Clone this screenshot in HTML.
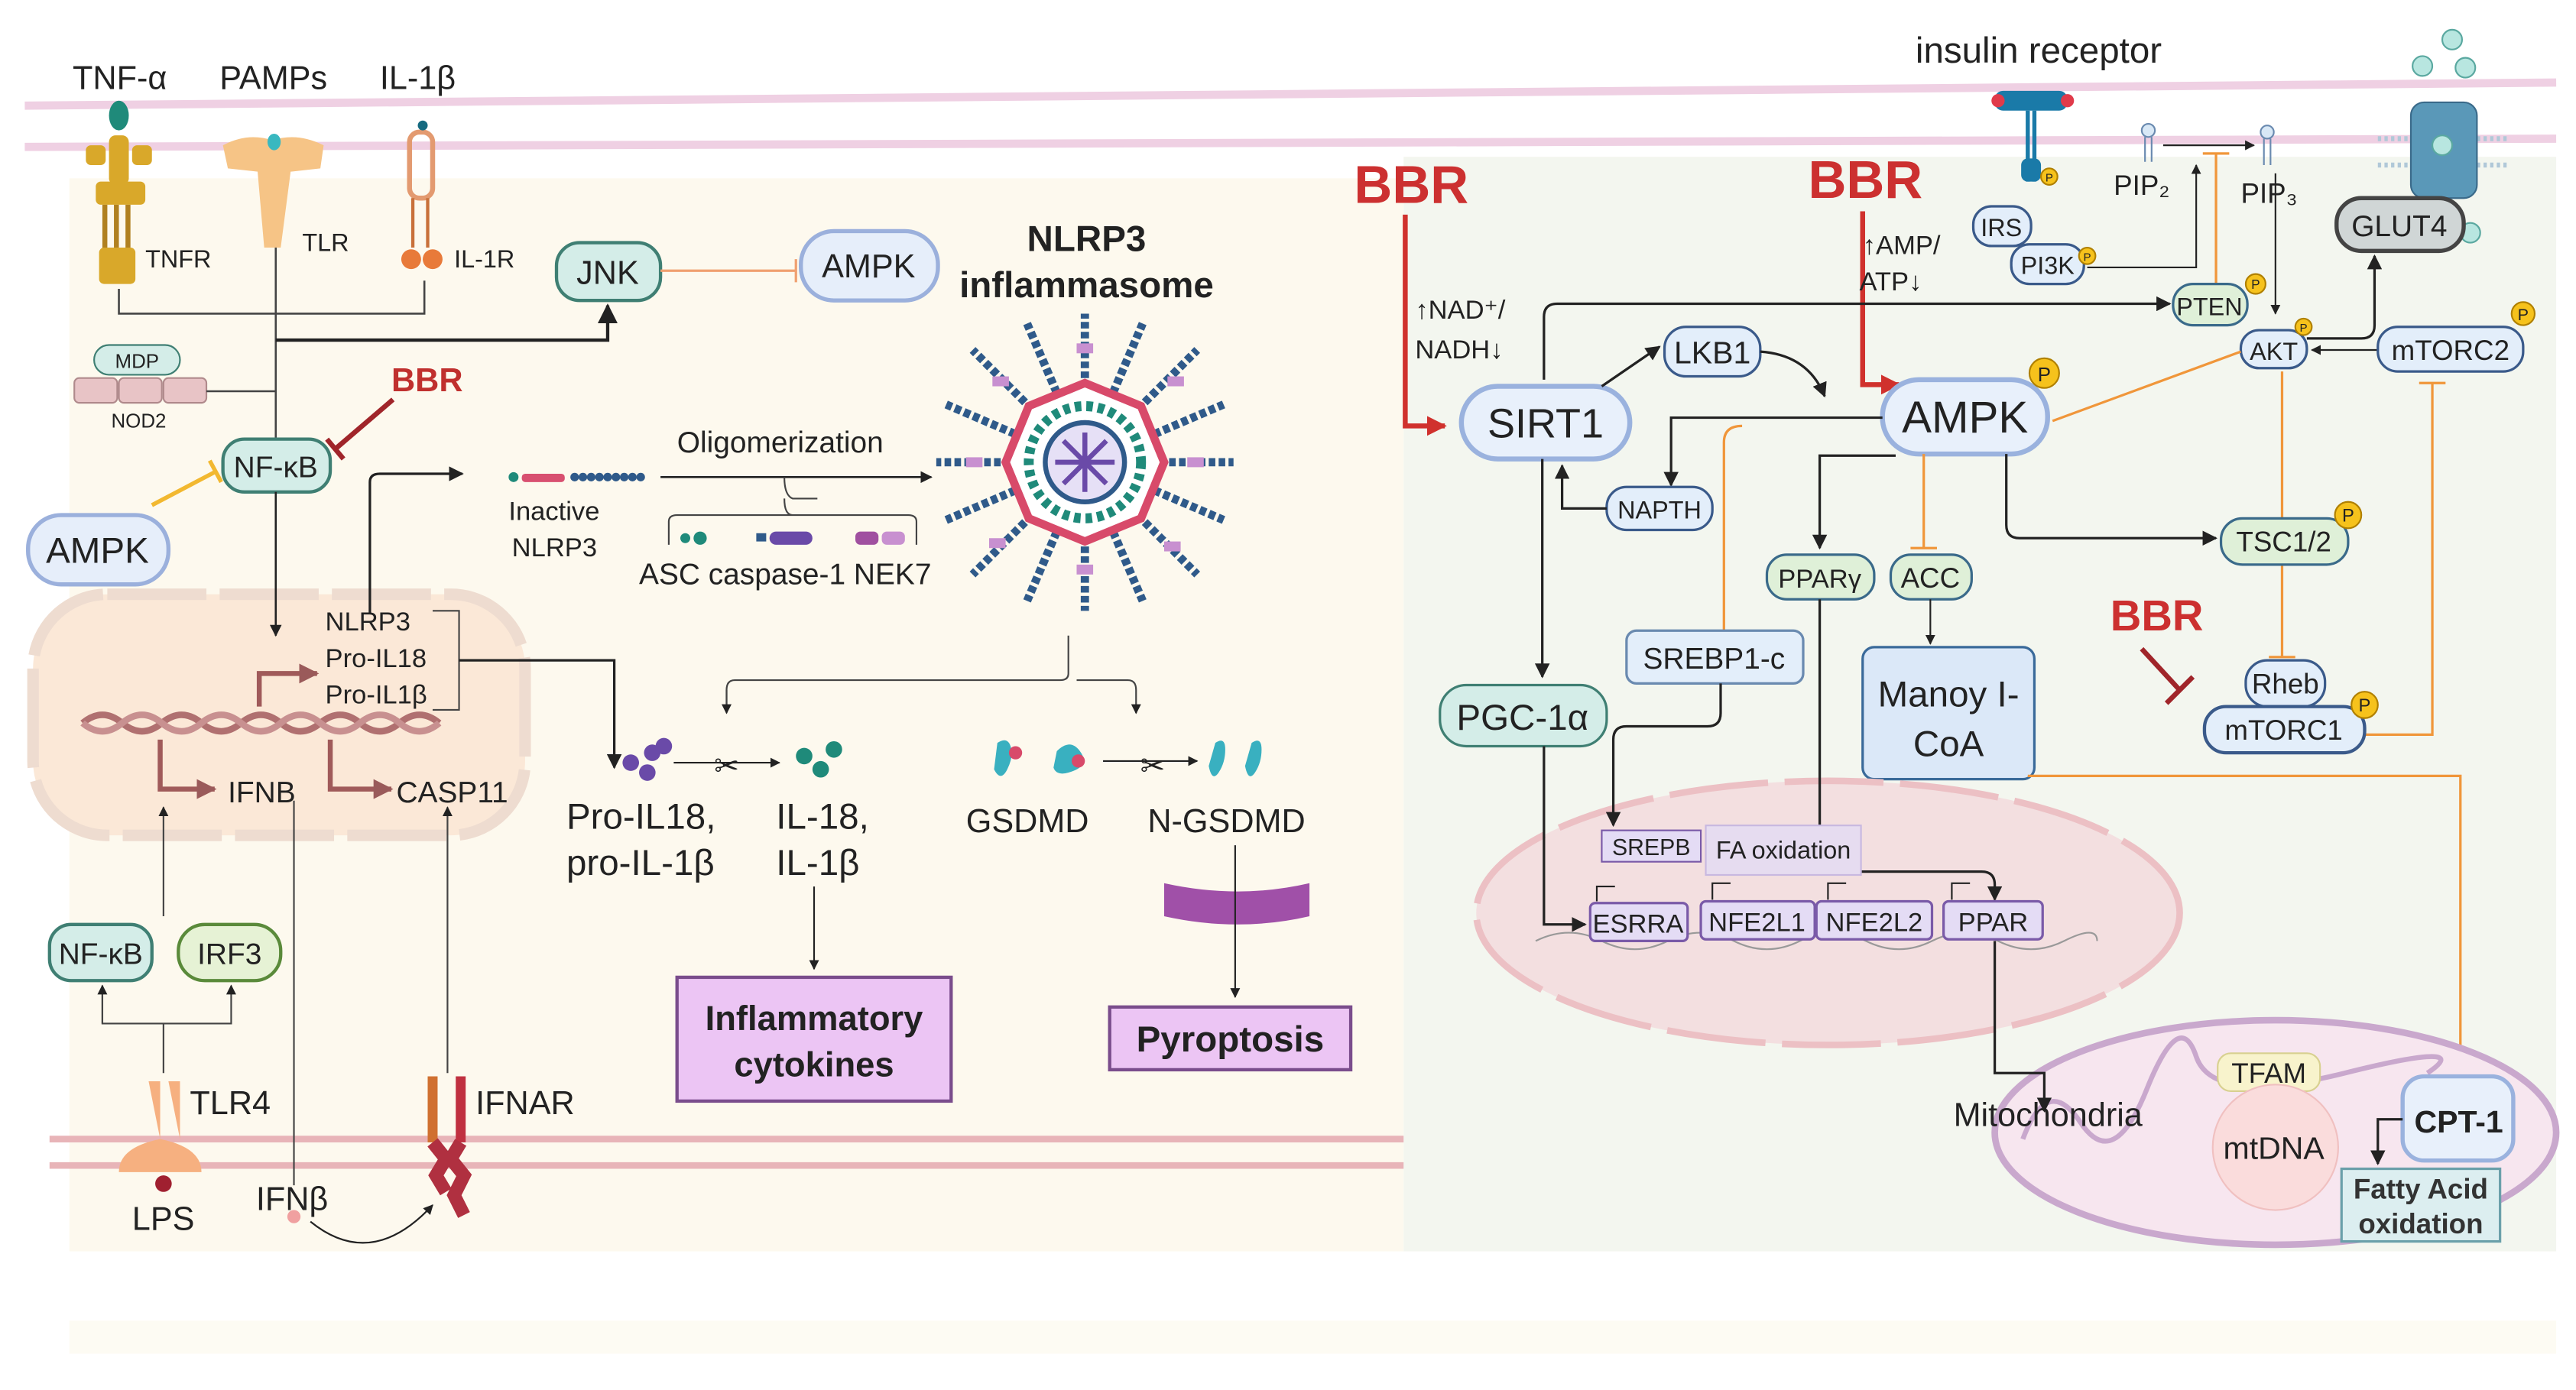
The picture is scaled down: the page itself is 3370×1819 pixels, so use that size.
<!DOCTYPE html>
<html><head><meta charset="utf-8"><style>
html,body{margin:0;padding:0;background:#fff;}
svg{display:block;}
text{font-family:"Liberation Sans",sans-serif;fill:#222;}
</style></head><body>
<svg width="3370" height="1819" viewBox="0 0 1560 842" preserveAspectRatio="none" xmlns="http://www.w3.org/2000/svg">
<defs>
<marker id="a" viewBox="0 0 10 10" refX="9" refY="5" markerWidth="6" markerHeight="6" orient="auto"><path d="M0,0L10,5L0,10z" fill="#222"/></marker>
<marker id="r" viewBox="0 0 10 10" refX="9" refY="5" markerWidth="4" markerHeight="4" orient="auto"><path d="M0,0L10,5L0,10z" fill="#d0312d"/></marker>
<marker id="b" viewBox="0 0 10 10" refX="9" refY="5" markerWidth="4" markerHeight="4" orient="auto"><path d="M0,0L10,5L0,10z" fill="#9a5a5a"/></marker>
</defs>
<rect width="1560" height="842" fill="#fff"/>
<rect x="42" y="108" width="808" height="650" fill="#fdf9ee"/>
<rect x="850" y="95" width="698" height="663" fill="#f3f6ef"/>
<rect x="42" y="800" width="1506" height="20" fill="#fdfbf3"/>
<!-- membranes -->
<path d="M15,64L1548,50" stroke="#efd0e3" stroke-width="5"/>
<path d="M15,89L1548,84" stroke="#efd0e3" stroke-width="5"/>
<path d="M30,690H850M30,706H850" stroke="#e8b4b8" stroke-width="4"/>

<!-- LEFT -->
<text x="44" y="54" font-size="20">TNF-α</text>
<text x="133" y="54" font-size="20">PAMPs</text>
<text x="230" y="54" font-size="20">IL-1β</text>
<!-- TNFR -->
<ellipse cx="72" cy="70" rx="6" ry="9" fill="#1f8a7a"/>
<g fill="#d9a82a"><rect x="66" y="82" width="12" height="30" rx="4"/><rect x="52" y="88" width="12" height="12" rx="3"/><rect x="80" y="88" width="12" height="12" rx="3"/><rect x="58" y="110" width="30" height="14" rx="3"/>
<rect x="62" y="124" width="3" height="30" fill="#b08020"/><rect x="69" y="124" width="3" height="30" fill="#b08020"/><rect x="76" y="124" width="3" height="30" fill="#b08020"/>
<rect x="60" y="150" width="22" height="22" rx="3"/></g>
<text x="88" y="162" font-size="15">TNFR</text>
<!-- TLR -->
<path d="M135,88Q150,80 165,85Q180,80 196,88L194,102L176,104L170,150L160,150L156,104L138,102Z" fill="#f6c486"/>
<ellipse cx="166" cy="86" rx="4" ry="5" fill="#39b8c0"/>
<text x="183" y="152" font-size="15">TLR</text>
<!-- IL-1R -->
<rect x="248" y="80" width="14" height="40" rx="6" fill="none" stroke="#e39a70" stroke-width="3"/>
<path d="M250,120V150M259,120V150" stroke="#c8703a" stroke-width="2"/>
<circle cx="249" cy="157" r="6" fill="#e87a3a"/><circle cx="262" cy="157" r="6" fill="#e87a3a"/>
<circle cx="256" cy="76" r="3" fill="#156a80"/>
<text x="275" y="162" font-size="15">IL-1R</text>
<path d="M72,175V190H257V170M167,150V278" stroke="#444" stroke-width="1.2" fill="none"/>
<path d="M167,206H368V185" stroke="#222" stroke-width="2" fill="none" marker-end="url(#a)"/>
<rect x="337" y="147" width="63" height="35" rx="14" fill="#d4ede8" stroke="#3f7f73" stroke-width="2"/>
<text x="368" y="172" font-size="20" text-anchor="middle">JNK</text>
<path d="M400,164H482M482,157V171" stroke="#f0a070" stroke-width="1.5"/>
<rect x="485" y="140" width="83" height="42" rx="20" fill="#e6eefa" stroke="#9bb0dc" stroke-width="2.5"/>
<text x="526" y="168" font-size="20" text-anchor="middle">AMPK</text>
<text x="658" y="152" font-size="22" font-weight="bold" text-anchor="middle">NLRP3</text>
<text x="658" y="180" font-size="22" font-weight="bold" text-anchor="middle">inflammasome</text>
<!-- MDP NOD2 -->
<rect x="57" y="209" width="52" height="18" rx="9" fill="#d4ede8" stroke="#3f7f73"/>
<text x="83" y="223" font-size="12" text-anchor="middle">MDP</text>
<g fill="#e8c4c6" stroke="#b08a8c"><rect x="45" y="229" width="26" height="15" rx="3"/><rect x="72" y="229" width="26" height="15" rx="3"/><rect x="99" y="229" width="26" height="15" rx="3"/></g>
<text x="84" y="259" font-size="12" text-anchor="middle">NOD2</text>
<path d="M125,237H167" stroke="#444" stroke-width="1.2"/>
<text x="237" y="237" font-size="20" font-weight="bold" fill="#c0302e" style="fill:#c0302e">BBR</text>
<path d="M238,242L203,272M198,266L208,278" stroke="#a0252a" stroke-width="3"/>
<rect x="135" y="266" width="65" height="32" rx="13" fill="#d4ede8" stroke="#3f7f73" stroke-width="2"/>
<text x="167" y="289" font-size="18" text-anchor="middle">NF-κB</text>
<path d="M92,306L130,286M127,279L134,292" stroke="#f2b830" stroke-width="2.5"/>
<rect x="17" y="312" width="85" height="42" rx="20" fill="#e6eefa" stroke="#9bb0dc" stroke-width="2.5"/>
<text x="59" y="341" font-size="22" text-anchor="middle">AMPK</text>
<!-- nucleus -->
<rect x="20" y="360" width="298" height="146" rx="45" fill="#fbe8d7" stroke="#eedcd0" stroke-width="7" stroke-dasharray="60 8"/>
<path d="M167,298V385" stroke="#222" stroke-width="1.2" marker-end="url(#a)"/>
<text x="197" y="382" font-size="16">NLRP3</text>
<text x="197" y="404" font-size="16">Pro-IL18</text>
<text x="197" y="426" font-size="16">Pro-IL1β</text>
<path d="M262,370H278V430H262" stroke="#444" fill="none"/>
<path d="M224,372V292Q224,287 230,287H280" stroke="#222" stroke-width="1.5" fill="none" marker-end="url(#a)"/>
<path d="M278,400H372V465" stroke="#222" stroke-width="1.5" fill="none" marker-end="url(#a)"/>
<path d="M50,438Q62,428 74,438T98,438T122,438T146,438T170,438T194,438T218,438T242,438T266,438" stroke="#b07070" stroke-width="4" fill="none"/>
<path d="M50,438Q62,448 74,438T98,438T122,438T146,438T170,438T194,438T218,438T242,438T266,438" stroke="#c89090" stroke-width="4" fill="none"/>
<path d="M157,428V408H192" stroke="#a05a5a" stroke-width="3" fill="none" marker-end="url(#b)"/>
<path d="M97,448V478H130" stroke="#a05a5a" stroke-width="3" fill="none" marker-end="url(#b)"/>
<path d="M200,448V478H237" stroke="#a05a5a" stroke-width="3" fill="none" marker-end="url(#b)"/>
<text x="138" y="486" font-size="18">IFNB</text>
<text x="240" y="486" font-size="18">CASP11</text>
<!-- inactive NLRP3 -->
<circle cx="311" cy="289" r="3" fill="#1f8a7a"/><rect x="316" y="287" width="26" height="5" rx="2" fill="#d85070"/>
<g fill="#2f5a8a"><circle cx="348" cy="289" r="2.6"/><circle cx="353" cy="289" r="2.6"/><circle cx="358" cy="289" r="2.6"/><circle cx="363" cy="289" r="2.6"/><circle cx="368" cy="289" r="2.6"/><circle cx="373" cy="289" r="2.6"/><circle cx="378" cy="289" r="2.6"/><circle cx="383" cy="289" r="2.6"/><circle cx="388" cy="289" r="2.6"/></g>
<text x="308" y="315" font-size="16">Inactive</text>
<text x="310" y="337" font-size="16">NLRP3</text>
<text x="410" y="274" font-size="18">Oligomerization</text>
<path d="M400,289H564" stroke="#222" stroke-width="1.2" marker-end="url(#a)"/>
<path d="M475,289Q475,300 480,302H495M405,330V316Q405,312 410,312H550Q555,312 555,316V330M480,312Q475,312 475,302" stroke="#444" fill="none"/>
<circle cx="415" cy="326" r="3" fill="#1f8a7a"/><circle cx="424" cy="326" r="4" fill="#1f8a7a"/>
<rect x="458" y="323" width="6" height="5" fill="#2f5a8a"/><rect x="466" y="322" width="26" height="8" rx="4" fill="#6a4aa8"/>
<rect x="518" y="322" width="14" height="8" rx="3" fill="#a050a0"/><rect x="534" y="322" width="14" height="8" rx="3" fill="#c890d0"/>
<text x="387" y="354" font-size="18">ASC caspase-1 NEK7</text>
<!-- inflammasome -->
<g transform="translate(657,280)">
<g stroke="#2f5a8a" stroke-width="5" stroke-dasharray="4 2">
<path d="M0,-45V-90M32,-32L68,-68M45,0H90M32,32L68,68M0,45V90M-32,32L-68,68M-45,0H-90M-32,-32L-68,-68M17,-42L35,-84M42,-17L84,-35M42,17L84,35M17,42L35,84M-17,42L-35,84M-42,17L-84,35M-42,-17L-84,-35M-17,-42L-35,-84"/>
</g>
<g fill="#c890d0"><rect x="-5" y="-72" width="10" height="6"/><rect x="50" y="-52" width="10" height="6"/><rect x="62" y="-3" width="10" height="6"/><rect x="48" y="48" width="10" height="6"/><rect x="-5" y="62" width="10" height="6"/><rect x="-58" y="46" width="10" height="6"/><rect x="-72" y="-3" width="10" height="6"/><rect x="-56" y="-52" width="10" height="6"/></g>
<polygon points="0,-48 34,-34 48,0 34,34 0,48 -34,34 -48,0 -34,-34" fill="#fff" stroke="#d84a6a" stroke-width="5"/>
<circle r="34" fill="#fff" stroke="#1f8a7a" stroke-width="6" stroke-dasharray="4 3"/>
<circle r="24" fill="#e6e0f6" stroke="#2f5a8a" stroke-width="3"/>
<g stroke="#6a4aa8" stroke-width="3"><path d="M0,-18V18M-18,0H18M-13,-13L13,13M-13,13L13,-13"/></g>
</g>
<path d="M647,385V408Q647,412 642,412H445Q440,412 440,418V430M652,412H683Q688,412 688,418V432" stroke="#444" fill="none" marker-end="url(#a)"/>
<path d="M440,418V432" stroke="#444" marker-end="url(#a)"/>
<g fill="#6a4aa8"><circle cx="382" cy="462" r="5"/><circle cx="395" cy="456" r="5"/><circle cx="392" cy="468" r="5"/><circle cx="402" cy="452" r="5"/></g>
<path d="M408,462H472" stroke="#222" marker-end="url(#a)"/>
<text x="440" y="470" font-size="18" text-anchor="middle">✂</text>
<g fill="#1f8a7a"><circle cx="487" cy="458" r="5"/><circle cx="497" cy="466" r="5"/><circle cx="505" cy="454" r="5"/></g>
<text x="343" y="502" font-size="22">Pro-IL18,</text>
<text x="343" y="530" font-size="22">pro-IL-1β</text>
<text x="470" y="502" font-size="22">IL-18,</text>
<text x="470" y="530" font-size="22">IL-1β</text>
<path d="M493,537V587" stroke="#222" marker-end="url(#a)"/>
<rect x="410" y="592" width="166" height="75" fill="#ecc5f4" stroke="#7a4d8c" stroke-width="2"/>
<text x="493" y="624" font-size="21" font-weight="bold" text-anchor="middle">Inflammatory</text>
<text x="493" y="652" font-size="21" font-weight="bold" text-anchor="middle">cytokines</text>
<g fill="#39b0c0"><path d="M604,450q6,-4 8,2t-2,14t-8,0z"/><path d="M640,455q8,-8 14,0t-4,12t-12,-2z"/><path d="M736,450q6,-4 6,4t-4,14t-6,-4z"/><path d="M758,450q6,-4 6,4t-4,14t-6,-4z"/></g>
<circle cx="615" cy="456" r="4" fill="#d84a6a"/><circle cx="653" cy="461" r="4" fill="#d84a6a"/>
<path d="M668,461H725" stroke="#222" marker-end="url(#a)"/>
<text x="698" y="470" font-size="18" text-anchor="middle">✂</text>
<text x="585" y="504" font-size="20">GSDMD</text>
<text x="695" y="504" font-size="20">N-GSDMD</text>
<path d="M705,535Q750,545 793,535V555Q750,565 705,555Z" fill="#a050a8"/>
<path d="M748,512V604" stroke="#222" marker-end="url(#a)"/>
<rect x="672" y="610" width="146" height="38" fill="#ecc5f4" stroke="#7a4d8c" stroke-width="2"/>
<text x="745" y="637" font-size="22" font-weight="bold" text-anchor="middle">Pyroptosis</text>
<!-- lower left -->
<rect x="30" y="560" width="62" height="34" rx="13" fill="#d4ede8" stroke="#3f7f73" stroke-width="2"/>
<text x="61" y="584" font-size="18" text-anchor="middle">NF-κB</text>
<rect x="108" y="560" width="62" height="34" rx="16" fill="#e6f2d5" stroke="#5a8a3a" stroke-width="2"/>
<text x="139" y="584" font-size="18" text-anchor="middle">IRF3</text>
<path d="M99,650V620H62V597M99,620H140V597" stroke="#444" fill="none" marker-end="url(#a)"/>
<path d="M62,620V597" stroke="#444" marker-end="url(#a)"/>
<path d="M99,555V489" stroke="#444" marker-end="url(#a)"/>
<path d="M90,655h7v35q-25,5 -25,20h50q0,-15 -25,-20M102,655h7v35" fill="#f6b080"/>
<circle cx="99" cy="717" r="5" fill="#a02030"/>
<text x="115" y="675" font-size="20">TLR4</text>
<text x="80" y="745" font-size="20">LPS</text>
<path d="M178,485V718" stroke="#444"/>
<text x="155" y="733" font-size="20">IFNβ</text>
<circle cx="178" cy="737" r="4" fill="#f0a0a0"/>
<path d="M188,740Q225,770 262,730" stroke="#222" fill="none" marker-end="url(#a)"/>
<rect x="259" y="652" width="6" height="40" fill="#d07030"/><rect x="276" y="652" width="6" height="40" fill="#c03040"/>
<path d="M262,692l8,10l-6,10l6,10M279,692l-6,10l8,10l-6,12l6,12" stroke="#b03040" stroke-width="8" fill="none"/>
<text x="288" y="675" font-size="20">IFNAR</text>
<path d="M271,650V489" stroke="#444" marker-end="url(#a)"/>

<!-- RIGHT -->
<text x="1160" y="38" font-size="22">insulin receptor</text>
<rect x="1208" y="55" width="44" height="12" rx="5" fill="#1a7aa8"/><circle cx="1210" cy="61" r="4" fill="#e03a4a"/><circle cx="1252" cy="61" r="4" fill="#e03a4a"/>
<path d="M1228,67V110M1232,67V110" stroke="#1a7aa8" stroke-width="2.5"/><rect x="1224" y="96" width="12" height="14" rx="4" fill="#1a7aa8"/>
<circle cx="1241" cy="107" r="5" fill="#f6c21c" stroke="#b08000"/><text x="1241" y="110" font-size="7" text-anchor="middle">P</text>
<g fill="#d8e8f6" stroke="#6a8ab0"><circle cx="1301" cy="79" r="4"/><circle cx="1373" cy="80" r="4"/></g>
<path d="M1299,83V98M1303,83V98M1371,84V100M1375,84V100" stroke="#6a8ab0"/>
<circle cx="1485" cy="24" r="6" fill="#b8e6e0" stroke="#5aa8a0"/><circle cx="1467" cy="40" r="6" fill="#b8e6e0" stroke="#5aa8a0"/><circle cx="1493" cy="41" r="6" fill="#b8e6e0" stroke="#5aa8a0"/>
<path d="M1440,84H1520M1440,100H1520" stroke="#b0c8d8" stroke-width="3" stroke-dasharray="2 2"/>
<rect x="1460" y="62" width="40" height="58" rx="8" fill="#5a98b8" stroke="#3a6a8a"/>
<circle cx="1479" cy="88" r="6" fill="#b8e6e0" stroke="#5aa8a0"/>
<circle cx="1496" cy="141" r="6" fill="#b8e6e0" stroke="#5aa8a0"/>
<text x="820" y="123" font-size="32" font-weight="bold" style="fill:#cc3030">BBR</text>
<path d="M851,130V258H875" stroke="#d0312d" stroke-width="3" fill="none" marker-end="url(#r)"/>
<text x="857" y="193" font-size="16">↑NAD⁺/</text>
<text x="857" y="217" font-size="16">NADH↓</text>
<text x="1095" y="120" font-size="32" font-weight="bold" style="fill:#cc3030">BBR</text>
<path d="M1128,128V233H1150" stroke="#d0312d" stroke-width="3" fill="none" marker-end="url(#r)"/>
<text x="1128" y="154" font-size="16">↑AMP/</text>
<text x="1126" y="176" font-size="16">ATP↓</text>
<text x="1280" y="118" font-size="17">PIP₂</text>
<text x="1357" y="123" font-size="17">PIP₃</text>
<path d="M1310,88H1365" stroke="#222" marker-end="url(#a)"/>
<path d="M1342,93V175M1334,93H1350" stroke="#f0963a" stroke-width="1.5"/>
<path d="M1264,162H1330V100" stroke="#222" fill="none" marker-end="url(#a)"/>
<path d="M1378,105V190" stroke="#222" marker-end="url(#a)"/>
<rect x="1195" y="125" width="35" height="24" rx="11" fill="#e3eefa" stroke="#3a5a8a" stroke-width="1.5"/><text x="1212" y="143" font-size="15" text-anchor="middle">IRS</text>
<rect x="1218" y="148" width="44" height="24" rx="11" fill="#e3eefa" stroke="#3a5a8a" stroke-width="1.5"/><text x="1240" y="166" font-size="15" text-anchor="middle">PI3K</text>
<circle cx="1264" cy="155" r="5" fill="#f6c21c" stroke="#b08000"/><text x="1264" y="158" font-size="7" text-anchor="middle">P</text>
<rect x="1415" y="120" width="77" height="32" rx="15" fill="#d0d6d6" stroke="#444" stroke-width="2.5"/><text x="1453" y="143" font-size="18" text-anchor="middle">GLUT4</text>
<path d="M935,230V192Q935,184 943,184H1314" stroke="#222" stroke-width="1.5" fill="none" marker-end="url(#a)"/>
<rect x="1316" y="172" width="45" height="25" rx="12" fill="#dff0d8" stroke="#3a6a8a" stroke-width="1.5"/><text x="1338" y="191" font-size="15" text-anchor="middle">PTEN</text>
<circle cx="1366" cy="172" r="6" fill="#f6c21c" stroke="#b08000"/><text x="1366" y="175" font-size="8" text-anchor="middle">P</text>
<path d="M1397,205H1430Q1438,205 1438,197V155" stroke="#222" stroke-width="1.5" fill="none" marker-end="url(#a)"/>
<rect x="1357" y="200" width="40" height="23" rx="11" fill="#e3eefa" stroke="#3a5a8a" stroke-width="1.5"/><text x="1377" y="218" font-size="15" text-anchor="middle">AKT</text>
<circle cx="1395" cy="198" r="5" fill="#f6c21c" stroke="#b08000"/><text x="1395" y="201" font-size="7" text-anchor="middle">P</text>
<path d="M1440,212H1400" stroke="#222" marker-end="url(#a)"/>
<rect x="1440" y="198" width="88" height="27" rx="12" fill="#e3eefa" stroke="#3a5a8a" stroke-width="1.5"/><text x="1484" y="218" font-size="17" text-anchor="middle">mTORC2</text>
<circle cx="1528" cy="190" r="7" fill="#f6c21c" stroke="#b08000"/><text x="1528" y="194" font-size="10" text-anchor="middle">P</text>
<path d="M1357,213L1243,255" stroke="#f0963a" stroke-width="1.5"/>
<path d="M1382,225V318M1374,318H1390M1382,342V398M1374,398H1390" stroke="#f0963a" stroke-width="1.5"/>
<path d="M1473,232V445H1432M1465,232H1481" stroke="#f0963a" stroke-width="1.5" fill="none"/>
<rect x="885" y="234" width="102" height="44" rx="22" fill="#e8f0fb" stroke="#9ab2de" stroke-width="3"/><text x="936" y="265" font-size="25" text-anchor="middle">SIRT1</text>
<path d="M970,234L1005,210" stroke="#222" stroke-width="1.5" marker-end="url(#a)"/>
<rect x="1008" y="198" width="58" height="30" rx="13" fill="#e3eefa" stroke="#3a5a8a" stroke-width="1.5"/><text x="1037" y="220" font-size="19" text-anchor="middle">LKB1</text>
<path d="M1066,213Q1095,215 1105,240" stroke="#222" stroke-width="1.5" fill="none" marker-end="url(#a)"/>
<rect x="1140" y="230" width="100" height="45" rx="22" fill="#e8f0fb" stroke="#9ab2de" stroke-width="3"/><text x="1190" y="262" font-size="27" text-anchor="middle">AMPK</text>
<circle cx="1238" cy="226" r="9" fill="#f6c21c" stroke="#b08000"/><text x="1238" y="231" font-size="12" text-anchor="middle">P</text>
<path d="M1140,253H1012V294" stroke="#222" stroke-width="1.5" fill="none" marker-end="url(#a)"/>
<path d="M1055,258Q1044,258 1044,268V408M1036,408H1052" stroke="#f0963a" stroke-width="1.5" fill="none"/>
<path d="M1165,275V332M1157,332H1173" stroke="#f0963a" stroke-width="1.5"/>
<path d="M1148,276H1102V332" stroke="#222" stroke-width="1.5" fill="none" marker-end="url(#a)"/>
<path d="M1215,275V318Q1215,326 1223,326H1342" stroke="#222" stroke-width="1.5" fill="none" marker-end="url(#a)"/>
<rect x="973" y="295" width="64" height="26" rx="12" fill="#e3eefa" stroke="#3a5a8a" stroke-width="1.5"/><text x="1005" y="314" font-size="15" text-anchor="middle">NAPTH</text>
<path d="M973,308H946V282" stroke="#222" stroke-width="1.5" fill="none" marker-end="url(#a)"/>
<path d="M934,278V410" stroke="#222" stroke-width="1.5" marker-end="url(#a)"/>
<rect x="1070" y="336" width="65" height="27" rx="12" fill="#dff0d8" stroke="#3a6a8a" stroke-width="1.5"/><text x="1102" y="356" font-size="16" text-anchor="middle">PPARγ</text>
<rect x="1145" y="336" width="49" height="27" rx="12" fill="#dff0d8" stroke="#3a6a8a" stroke-width="1.5"/><text x="1169" y="356" font-size="17" text-anchor="middle">ACC</text>
<path d="M1169,363V390" stroke="#222" marker-end="url(#a)"/>
<rect x="985" y="382" width="107" height="32" rx="6" fill="#e3eefa" stroke="#6a8ab0" stroke-width="1.5"/><text x="1038" y="405" font-size="18" text-anchor="middle">SREBP1-c</text>
<rect x="872" y="415" width="101" height="37" rx="16" fill="#d4ede8" stroke="#3f7f73" stroke-width="1.5"/><text x="922" y="442" font-size="22" text-anchor="middle">PGC-1α</text>
<rect x="1128" y="392" width="104" height="80" rx="7" fill="#dbe8f8" stroke="#3a6a9a" stroke-width="1.5"/><text x="1180" y="428" font-size="22" text-anchor="middle">Manoy I-</text><text x="1180" y="458" font-size="22" text-anchor="middle">CoA</text>
<rect x="1345" y="314" width="77" height="28" rx="13" fill="#dff0d8" stroke="#3a6a8a" stroke-width="1.5"/><text x="1383" y="334" font-size="17" text-anchor="middle">TSC1/2</text>
<circle cx="1422" cy="312" r="8" fill="#f6c21c" stroke="#b08000"/><text x="1422" y="316" font-size="11" text-anchor="middle">P</text>
<text x="1278" y="382" font-size="26" font-weight="bold" style="fill:#cc3030">BBR</text>
<path d="M1297,393L1320,418M1312,426L1328,410" stroke="#a0252a" stroke-width="3"/>
<rect x="1360" y="400" width="48" height="28" rx="13" fill="#e3eefa" stroke="#3a5a8a" stroke-width="1.5"/><text x="1384" y="420" font-size="17" text-anchor="middle">Rheb</text>
<rect x="1335" y="428" width="97" height="28" rx="13" fill="#e3eefa" stroke="#3a5a8a" stroke-width="2"/><text x="1383" y="448" font-size="17" text-anchor="middle">mTORC1</text>
<circle cx="1432" cy="427" r="8" fill="#f6c21c" stroke="#b08000"/><text x="1432" y="431" font-size="11" text-anchor="middle">P</text>
<path d="M1228,470H1490V658M1482,658H1498" stroke="#f0963a" stroke-width="1.5" fill="none"/>
<!-- nucleus -->
<ellipse cx="1107" cy="553" rx="213" ry="80" fill="#f3dfe0" stroke="#ecc0c4" stroke-width="4" stroke-dasharray="60 10"/>
<path d="M935,452V560H960" stroke="#222" stroke-width="1.5" fill="none" marker-end="url(#a)"/>
<path d="M1042,414V432Q1042,440 1034,440H985Q977,440 977,448V500" stroke="#222" stroke-width="1.5" fill="none" marker-end="url(#a)"/>
<path d="M1102,363V520Q1102,528 1110,528H1200Q1208,528 1208,536V545" stroke="#222" stroke-width="1.5" fill="none" marker-end="url(#a)"/>
<path d="M930,570Q950,560 970,570T1010,570T1050,570T1090,570T1130,570T1170,570T1210,570T1250,570T1270,570" stroke="#999" fill="none"/>
<rect x="970" y="503" width="60" height="19" fill="#e4dcf5" stroke="#7a5aa8"/><text x="1000" y="518" font-size="14" text-anchor="middle">SREPB</text>
<rect x="1033" y="500" width="94" height="30" fill="#e6dcf0" stroke="#c8b8e0"/><text x="1080" y="520" font-size="15" text-anchor="middle">FA oxidation</text>
<g fill="#e4dcf5" stroke="#7a5aa8" stroke-width="1.5"><rect x="963" y="547" width="59" height="23" rx="3"/><rect x="1030" y="546" width="69" height="23" rx="3"/><rect x="1100" y="546" width="70" height="23" rx="3"/><rect x="1177" y="546" width="60" height="23" rx="3"/></g>
<text x="992" y="565" font-size="16" text-anchor="middle">ESRRA</text><text x="1064" y="564" font-size="16" text-anchor="middle">NFE2L1</text><text x="1135" y="564" font-size="16" text-anchor="middle">NFE2L2</text><text x="1207" y="564" font-size="16" text-anchor="middle">PPAR</text>
<path d="M967,546V537H978M1037,545V535H1048M1107,545V535H1118M1182,545V535H1193" stroke="#222" fill="none"/>
<!-- mito -->
<ellipse cx="1378" cy="686" rx="170" ry="68" fill="#f7e6ef" stroke="#c9a8cd" stroke-width="4"/>
<path d="M1225,690Q1240,650 1260,680T1300,660T1330,640T1420,650T1470,650" stroke="#c9a8cd" stroke-width="3" fill="none"/>
<path d="M1208,570V650H1238V673" stroke="#222" stroke-width="1.5" fill="none" marker-end="url(#a)"/>
<text x="1183" y="682" font-size="20">Mitochondria</text>
<rect x="1343" y="638" width="62" height="23" rx="8" fill="#f8f3cc" stroke="#d8d090"/><text x="1374" y="656" font-size="17" text-anchor="middle">TFAM</text>
<circle cx="1378" cy="695" r="38" fill="#fadcdc" stroke="#f0c0c0"/><text x="1377" y="702" font-size="19" text-anchor="middle">mtDNA</text>
<rect x="1455" y="652" width="67" height="51" rx="13" fill="#e8f0fb" stroke="#9ab2de" stroke-width="2.5"/><text x="1489" y="686" font-size="19" font-weight="bold" text-anchor="middle">CPT-1</text>
<path d="M1455,678H1440V705" stroke="#222" stroke-width="1.5" fill="none" marker-end="url(#a)"/>
<rect x="1418" y="708" width="96" height="44" fill="#dceef0" stroke="#6aa0aa" stroke-width="1.5"/><text x="1466" y="726" font-size="17" font-weight="bold" text-anchor="middle" style="fill:#333">Fatty Acid</text><text x="1466" y="747" font-size="17" font-weight="bold" text-anchor="middle" style="fill:#333">oxidation</text>
</svg>
</body></html>
